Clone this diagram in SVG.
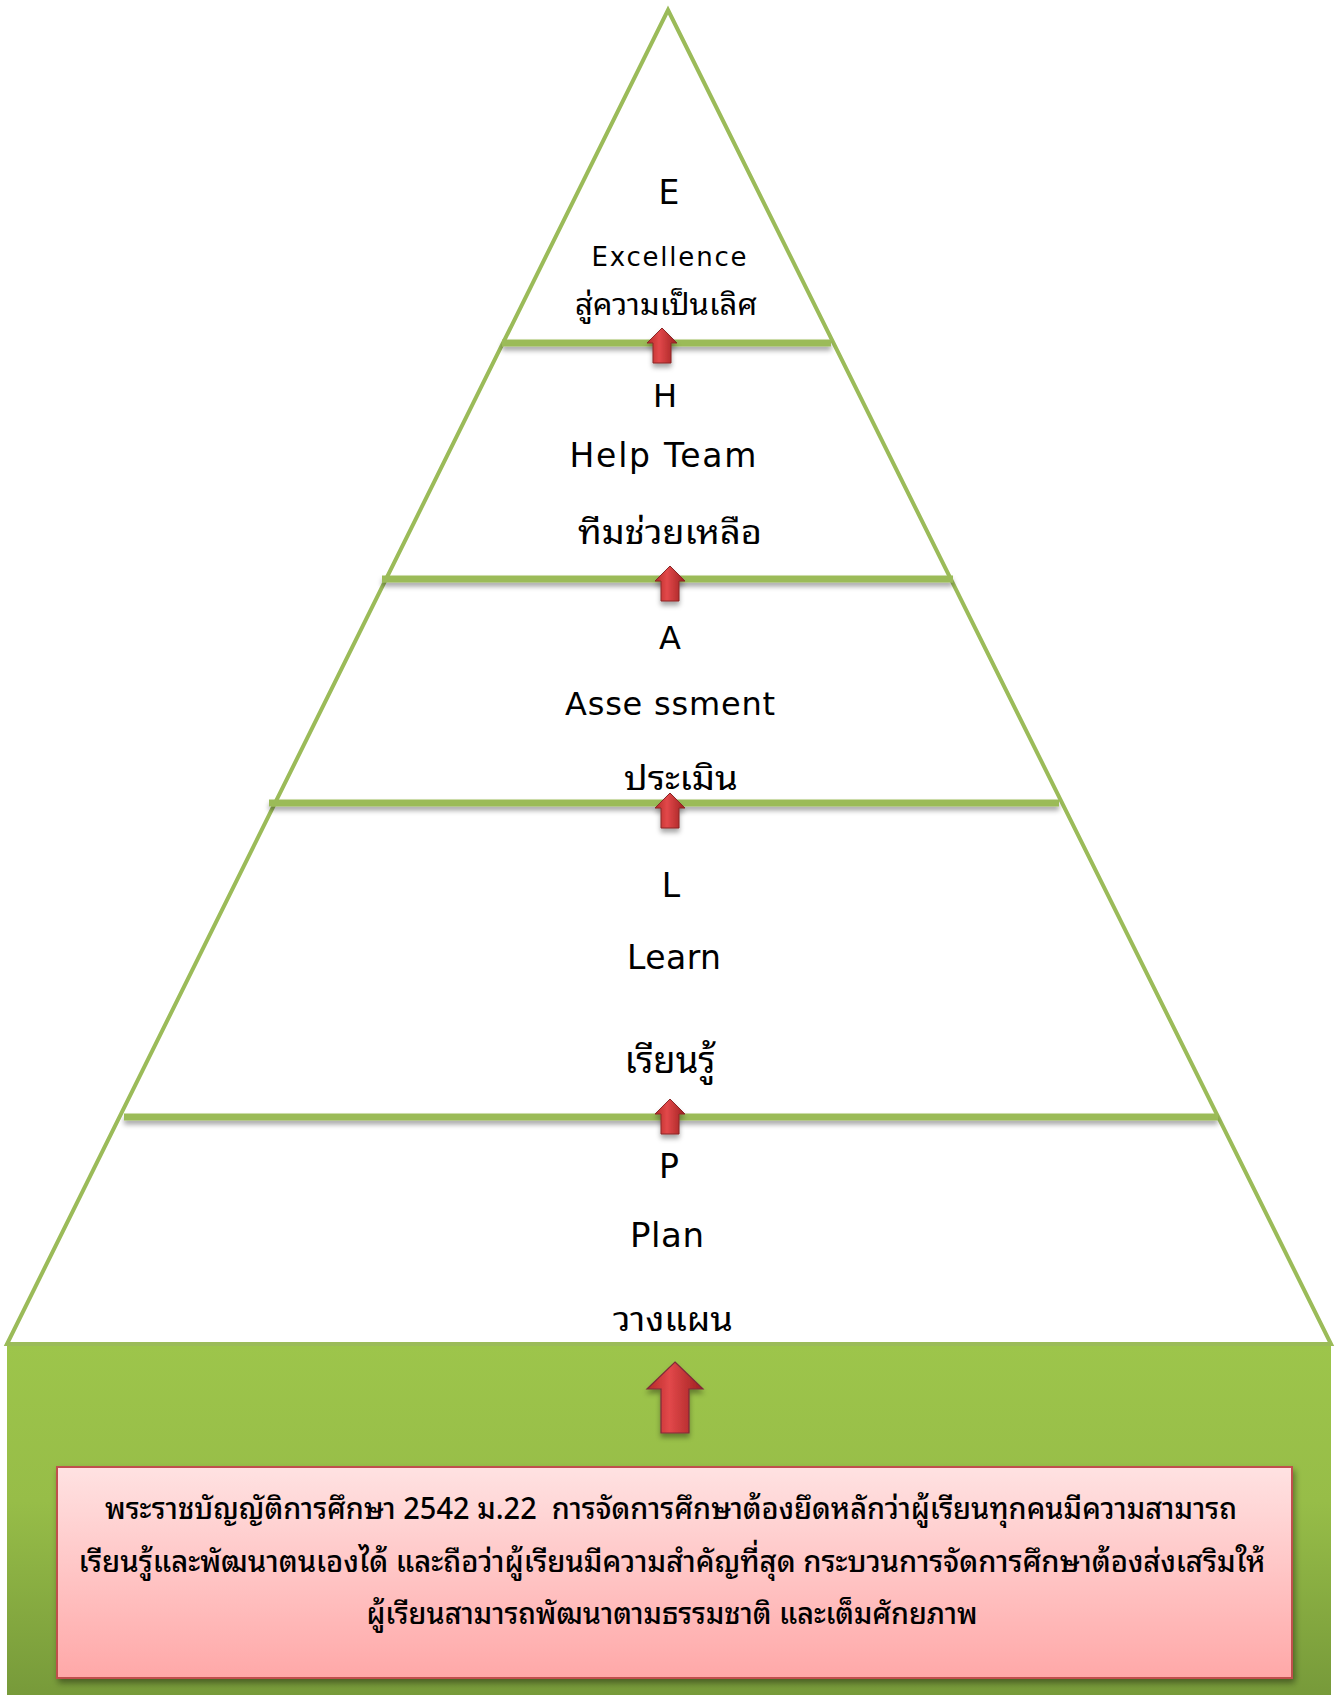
<svg xmlns="http://www.w3.org/2000/svg" width="1338" height="1695" viewBox="0 0 1338 1695">
  <style>
    .lat { font-family: "DejaVu Sans", "Noto Sans", sans-serif; fill: #000; text-anchor: middle; }
    .thai { font-family: "Noto Sans Thai Looped", "Noto Serif Thai", "Noto Sans Thai", "Noto Sans", "DejaVu Sans", sans-serif; fill: #000; text-anchor: middle; }
    .edge { fill: none; stroke: #9BBB59; stroke-width: 4; stroke-linejoin: miter; }
    .tier { stroke: #9BBB59; stroke-width: 7; fill: none; }
  </style>
  <defs>
    <linearGradient id="gGreen" x1="0" y1="0" x2="0" y2="1">
      <stop offset="0" stop-color="#9DC54B"/>
      <stop offset="0.45" stop-color="#97BD48"/>
      <stop offset="1" stop-color="#779A3A"/>
    </linearGradient>
    <linearGradient id="gPink" x1="0" y1="0" x2="0" y2="1">
      <stop offset="0" stop-color="#FFE2E2"/>
      <stop offset="1" stop-color="#FFA8A8"/>
    </linearGradient>
    <linearGradient id="gRed" x1="0" y1="0" x2="1" y2="0">
      <stop offset="0" stop-color="#B52A28"/>
      <stop offset="0.4" stop-color="#E2484A"/>
      <stop offset="1" stop-color="#9E2020"/>
    </linearGradient>
    <filter id="shadow" x="-10%" y="-50%" width="120%" height="300%">
      <feDropShadow dx="0" dy="4" stdDeviation="2.5" flood-color="#000" flood-opacity="0.35"/>
    </filter>
    <filter id="boxShadow" x="-5%" y="-10%" width="110%" height="130%">
      <feDropShadow dx="2" dy="4" stdDeviation="3" flood-color="#000" flood-opacity="0.4"/>
    </filter>
    <path id="arrowSmall" d="M0,0 L15,15 L9,15 L9,35 L-9,35 L-9,15 L-15,15 Z" fill="url(#gRed)" stroke="#8A2626" stroke-width="1"/>
    <path id="arrowBig" d="M0,0 L28,27 L14,27 L14,71 L-14,71 L-14,27 L-28,27 Z" fill="url(#gRed)" stroke="#7E2A3A" stroke-width="1.2"/>
  </defs>

  <rect x="0" y="0" width="1338" height="1695" fill="#FFFFFF"/>

  <!-- base block -->
  <g id="base">
    <rect x="7" y="1343" width="1324" height="352" fill="url(#gGreen)"/>
    <rect x="524" y="1341" width="300" height="3" fill="#FFFFFF"/>
  </g>

  <!-- pyramid outline -->
  <g id="pyramid">
    <polygon class="edge" points="668,10 1331,1344 7,1344"/>
  </g>

  <!-- tier dividers -->
  <g id="dividers" filter="url(#shadow)">
    <line class="tier" x1="502" y1="343" x2="831" y2="343"/>
    <line class="tier" x1="382" y1="579" x2="953" y2="579"/>
    <line class="tier" x1="269" y1="803" x2="1059" y2="803"/>
    <line class="tier" x1="124" y1="1117" x2="1218" y2="1117"/>
  </g>

  <!-- nodes -->
  <g id="node-E">
    <text class="lat" x="669" y="204" font-size="33">E</text>
    <text class="lat" x="669" y="266" font-size="26" textLength="155" lengthAdjust="spacing">Excellence</text>
    <text class="thai" x="666" y="315" font-size="30" textLength="182" lengthAdjust="spacingAndGlyphs">สู่ความเป็นเลิศ</text>
  </g>
  <g id="node-H">
    <text class="lat" x="665" y="407" font-size="32">H</text>
    <text class="lat" x="663" y="467" font-size="33" textLength="187" lengthAdjust="spacing">Help Team</text>
    <text class="thai" x="670" y="544" font-size="34" textLength="184" lengthAdjust="spacingAndGlyphs">ทีมช่วยเหลือ</text>
  </g>
  <g id="node-A">
    <text class="lat" x="670" y="649" font-size="32">A</text>
    <text class="lat" x="670" y="715" font-size="32" textLength="210" lengthAdjust="spacing">Asse ssment</text>
    <text class="thai" x="681" y="790" font-size="34" textLength="114" lengthAdjust="spacingAndGlyphs">ประเมิน</text>
  </g>
  <g id="node-L">
    <text class="lat" x="671" y="897" font-size="33">L</text>
    <text class="lat" x="674" y="969" font-size="33" textLength="94" lengthAdjust="spacing">Learn</text>
    <text class="thai" x="670" y="1073" font-size="36" textLength="91" lengthAdjust="spacingAndGlyphs">เรียนรู้</text>
  </g>
  <g id="node-P">
    <text class="lat" x="669" y="1178" font-size="33">P</text>
    <text class="lat" x="667" y="1247" font-size="34" textLength="74" lengthAdjust="spacing">Plan</text>
    <text class="thai" x="673" y="1331" font-size="34" textLength="120" lengthAdjust="spacingAndGlyphs">วางแผน</text>
  </g>

  <g id="node-act">
    <rect x="57" y="1467" width="1235" height="211" fill="url(#gPink)" stroke="#C0504D" stroke-width="2" filter="url(#boxShadow)"/>
    <text class="thai" x="671" y="1519" font-size="30" font-weight="500" textLength="1132" lengthAdjust="spacingAndGlyphs">พระราชบัญญัติการศึกษา 2542 ม.22&#160; การจัดการศึกษาต้องยึดหลักว่าผู้เรียนทุกคนมีความสามารถ</text>
    <text class="thai" x="672" y="1572" font-size="30" font-weight="500" textLength="1187" lengthAdjust="spacingAndGlyphs">เรียนรู้และพัฒนาตนเองได้ และถือว่าผู้เรียนมีความสำคัญที่สุด กระบวนการจัดการศึกษาต้องส่งเสริมให้</text>
    <text class="thai" x="672" y="1624" font-size="30" font-weight="500" textLength="611" lengthAdjust="spacingAndGlyphs">ผู้เรียนสามารถพัฒนาตามธรรมชาติ และเต็มศักยภาพ</text>
  </g>

  <!-- connectors -->
  <g id="connectors" filter="url(#shadow)">
    <use href="#arrowSmall" transform="translate(662,328)"/>
    <use href="#arrowSmall" transform="translate(670,566)"/>
    <use href="#arrowSmall" transform="translate(670,793)"/>
    <use href="#arrowSmall" transform="translate(670,1099)"/>
    <use href="#arrowBig" transform="translate(675,1362)"/>
  </g>
</svg>
